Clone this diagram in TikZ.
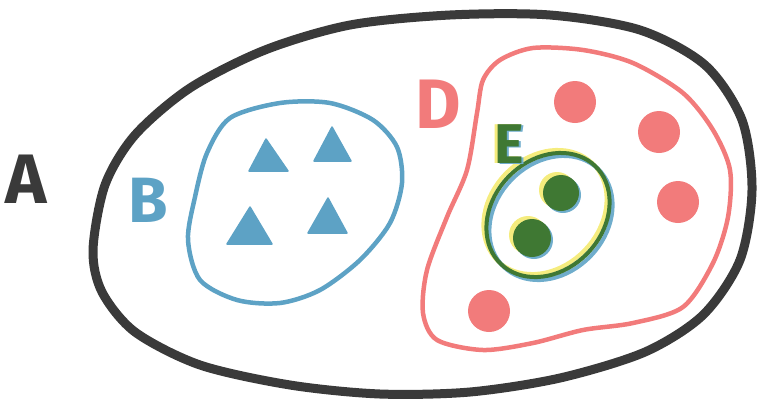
\documentclass[tikz,border=0pt]{standalone}
\usepackage{fontspec}
\setmainfont{Fira Sans}
\definecolor{cSetA}{HTML}{3A3A3A}
\definecolor{cSetB}{HTML}{5DA2C5}
\definecolor{cSetD}{HTML}{F27B7B}
\definecolor{cSetE}{HTML}{3F7833}
\definecolor{cHiY} {HTML}{F5EC7E}
\definecolor{cHiB} {HTML}{6FADCC}
\tikzset{
  setA/.style ={draw=cSetA,line width=9pt,line join=round},
  setB/.style ={draw=cSetB,line width=4.5pt,line join=round},
  setD/.style ={draw=cSetD,line width=4.5pt,line join=round},
  setE/.style ={draw=cSetE,line width=4pt,line join=round},
  tri/.style  ={fill=cSetB,draw=cSetB,line width=1.5pt,line join=round},
  dotD/.style ={fill=cSetD},
  dotE/.style ={fill=cSetE},
  lbl/.style  ={inner sep=0pt,font=\fontsize{70}{70}\selectfont\bfseries},
  lblE/.style ={lbl,font=\fontsize{56}{56}\selectfont\bfseries},
}
% letter with a yellow rim on the left and a blue one on the right
\newcommand{\rimmed}[1]{%
  \makebox[0pt][l]{\hspace{-2.5pt}\textcolor{cHiY}{#1}}%
  \makebox[0pt][l]{\hspace{2.5pt}\raisebox{-1pt}{\textcolor{cHiB}{#1}}}%
  \textcolor{cSetE}{#1}}

\begin{document}
\begin{tikzpicture}[x=1pt,y=-1pt]
\useasboundingbox (0,0) rectangle (767,407);

% universe A
\draw[setA] plot[smooth cycle] coordinates {
  (93,250) (105,185) (135,135) (190,88) (265,50) (350,25) (450,15) (550,15)
  (640,30) (705,65) (742,120) (752,190) (740,260) (703,315) (645,352)
  (560,378) (470,392) (380,394) (290,385) (200,365) (135,332) (102,292)};
\node[lbl,text=cSetA] (labA) at (26,179) {A};

% set B with its triangles
\draw[setB] plot[smooth cycle] coordinates {
  (230,118) (280,103) (330,103) (373,120) (397,147) (402,183) (390,223)
  (360,260) (320,290) (280,303) (237,300) (200,280) (188,240) (195,197)
  (207,153)};
\node[lbl,text=cSetB,font=\fontsize{64}{64}\selectfont\bfseries] (labB) at (148,200) {B};
\fill[tri] (249,171) -- (288,171) -- (266,139) -- cycle;
\fill[tri] (314,161) -- (351,161) -- (332,127) -- cycle;
\fill[tri] (227,244) -- (272,244) -- (250,207) -- cycle;
\fill[tri] (308,233) -- (347,233) -- (328,198) -- cycle;

% set D with its dots
\draw[setD] plot[smooth cycle] coordinates {
  (500,60) (533,48) (583,50) (633,63) (683,93) (713,130) (730,170)
  (728,217) (713,263) (683,307) (633,323) (583,330) (533,343) (483,350)
  (437,340) (423,313) (427,270) (447,217) (467,170) (477,113) (483,80)};
\node[lbl,text=cSetD] (labD) at (438,104) {D};
\foreach \p in {(575,102),(659,132),(678,202),(489,311)}
  \fill[dotD] \p circle (21);

% set E, green with a yellow and a blue rim (tilted oval, 68 by 55)
\foreach \c/\dx/\dy in {cHiY/-3/-3,cHiB/3/3,cSetE/0/0}
  \draw[setE,draw=\c] plot[domain=0:355,samples=72]
    ({548+\dx+68*cos(\x)*0.695+55*sin(\x)*0.719},
     {215+\dy-68*cos(\x)*0.719+55*sin(\x)*0.695}) -- cycle;
\foreach \p/\r in {(561,193)/18,(532,238)/19}{
  \fill[cHiY] \p ++(-4,-3) circle (\r);
  \fill[cHiB] \p ++(2,2) circle (\r);
  \fill[dotE] \p circle (\r);
}
\node[lblE] (labE) at (509,145) {\rimmed{E}};
\end{tikzpicture}
\end{document}
